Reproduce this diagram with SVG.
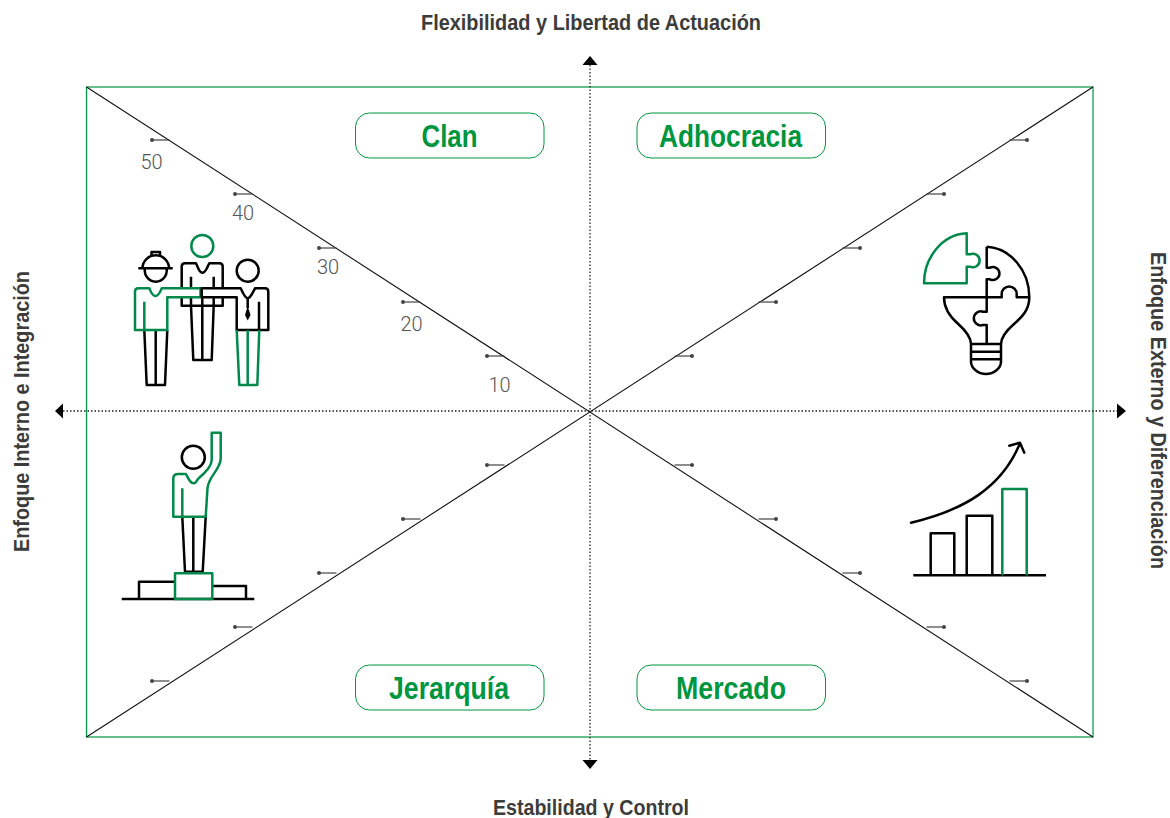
<svg xmlns="http://www.w3.org/2000/svg" width="1170" height="818" viewBox="0 0 1170 818">
<style>
text{font-family:"Liberation Sans",Arial,sans-serif}
.title{font-weight:700;font-size:22.500px;fill:#3c3c3b;text-anchor:middle}
.lab{font-weight:700;font-size:32px;fill:#009640;text-anchor:middle}
.num{font-family:Roboto,"Liberation Sans",sans-serif;font-weight:300;font-size:20px;fill:#555}
.box{fill:#fff;stroke:#009640;stroke-width:1}
.k{fill:none;stroke:#000;stroke-width:2.500;stroke-linejoin:round}
.g{fill:none;stroke:#00894a;stroke-width:2.500;stroke-linejoin:round}
.w{fill:#fff}
.diag{stroke:#111;stroke-width:1.100;fill:none}
.dot{stroke:#222;stroke-width:1.300;stroke-dasharray:1.500 2;fill:none}
.tick{stroke:#444;stroke-width:1.200;fill:none}
</style>
<defs>
<g id="t"><circle r="2" fill="#444"/><path class="tick" d="M0 0H17.500"/></g>
<g id="tr"><circle r="2" fill="#444"/><path class="tick" d="M0 0H-17.500"/></g>
</defs>
<rect id="frame" x="86.500" y="87" width="1006.500" height="650" fill="#fff" stroke="#009640" stroke-width="1.200"/>
<g id="connectors">
<path class="diag" d="M86.500 87L1093 737M1093 87L86.500 737"/>
<path class="dot" d="M590 65V760M63 411H1117"/>
<path fill="#000" d="M590 56L597.500 65H582.500ZM590 769L582.500 760H597.500ZM55 411L63 403.500V418.500ZM1126 411L1117 403.500V418.500Z"/>
<use href="#t" x="152" y="140"/><use href="#t" x="235" y="194"/><use href="#t" x="319" y="248"/><use href="#t" x="403" y="302"/><use href="#t" x="487" y="356"/>
<use href="#t" x="487" y="465"/><use href="#t" x="403" y="519"/><use href="#t" x="319" y="573"/><use href="#t" x="235" y="627"/><use href="#t" x="152" y="681"/>
<use href="#tr" x="1027" y="140"/><use href="#tr" x="944" y="194"/><use href="#tr" x="860" y="248"/><use href="#tr" x="776" y="302"/><use href="#tr" x="692" y="356"/>
<use href="#tr" x="692" y="465"/><use href="#tr" x="776" y="519"/><use href="#tr" x="860" y="573"/><use href="#tr" x="944" y="627"/><use href="#tr" x="1027" y="681"/>
</g>
<g id="scale">
<text class="num" x="140.500" y="169">50</text><text class="num" x="232" y="220">40</text><text class="num" x="317" y="274">30</text><text class="num" x="400.500" y="331">20</text><text class="num" x="488.500" y="392">10</text>
</g>
<g id="titles">
<text class="title" x="591" y="30" textLength="340" lengthAdjust="spacingAndGlyphs">Flexibilidad y Libertad de Actuación</text>
<text class="title" x="591" y="815" textLength="196" lengthAdjust="spacingAndGlyphs">Estabilidad y Control</text>
<text class="title" transform="translate(28.500 411.500) rotate(-90)" textLength="281" lengthAdjust="spacingAndGlyphs">Enfoque Interno e Integración</text>
<text class="title" transform="translate(1150.500 410.500) rotate(90)" textLength="317" lengthAdjust="spacingAndGlyphs">Enfoque Externo y Diferenciación</text>
</g>
<g id="clan"><rect class="box" x="355.500" y="113" width="188.500" height="45" rx="14"/><text class="lab" x="449.500" y="147" textLength="56" lengthAdjust="spacingAndGlyphs">Clan</text></g>
<g id="adhocracia"><rect class="box" x="637" y="113" width="188.500" height="45" rx="14"/><text class="lab" x="730.500" y="147" textLength="143" lengthAdjust="spacingAndGlyphs">Adhocracia</text></g>
<g id="jerarquia"><rect class="box" x="355.500" y="665" width="188.500" height="45" rx="14"/><text class="lab" x="449" y="698.500" textLength="120" lengthAdjust="spacingAndGlyphs">Jerarquía</text></g>
<g id="mercado"><rect class="box" x="637" y="665" width="188.500" height="45" rx="14"/><text class="lab" x="731" y="698.500" textLength="110" lengthAdjust="spacingAndGlyphs">Mercado</text></g>
<g id="icon-clan">
<path class="k" d="M144.300 330L146.700 385H165L167.300 330M155.700 330V385"/>
<path class="k" d="M138.300 268.300H172.700M142.500 268.300A13.200 13 0 0 1 169 268.300M151.500 256V252H160V256M145 268.300A11 11 0 1 0 166.500 268.300"/>
<circle class="g" cx="202.300" cy="246" r="11"/>
<path class="k w" d="M181.700 305.700V266.700Q181.700 263.300 185 263.300H196C198 267 199 272.700 202.300 272.700C206 272.700 207 267 209.300 263.300H219.500Q222.700 263.300 222.700 266.700V305.700Z"/>
<path class="k" d="M191 276.700V305.700M213.700 276.700V305.700M191 305.700L193.300 360H211.700L213.700 305.700M202.300 297.300V360"/>
<path class="g w" d="M135 330V291.700Q135 288.300 138.300 288.300H149.300C151 292 152 296 155.500 296C159 296 160 292 161.700 288.300H200.500V297.300H167.300V330Z"/>
<path class="g" d="M144.300 301.700V330"/>
<circle class="k" cx="247.700" cy="270.700" r="11"/>
<path class="k w" d="M201.700 288.300H240.700C242.500 292 245 298.300 247.700 298.300C250.500 298.300 253 292 255 288.300H265Q268.300 288.300 268.300 291.700V330H236.700V297.300H201.700Z"/>
<path class="k" d="M259 301.700V330M247.700 298.300V308"/>
<path fill="#000" d="M247.700 306L250.500 315L247.700 320.500L245 315Z"/>
<path class="g" d="M236.700 330L239.300 385H257.300L259.300 330M247.700 330V385"/>
</g>
<g id="icon-adhocracia">
<path class="g" d="M966.700 233.300C942 234.500 924 258 924 283.300H966.700V266.700H970A6.800 6.800 0 1 0 970 254.300H966.700Z"/>
<path class="k" d="M986.700 246.700C1010 248 1029.300 270 1029.300 297.300C1029.300 310 1022 317 1014 324C1006 331 1001 337 1001 344V361.700C1001 368 994 374 986 374C978 374 971 368 971 361.700V344C971 337 966 331 958.300 324C950 317 944 307 944 297.300H1001.700V294A7.500 7.500 0 0 1 1016.700 294V297.300H1029.300"/>
<path class="k" d="M986.700 246.700V267.700H990A6.500 6.500 0 1 1 990 279.300H986.700V311.700H983A7 7 0 1 0 983 325H986.700V344M971 344H1001M971 351.700H1001M971 359.300H1001"/>
</g>
<g id="icon-jerarquia">
<circle class="k" cx="193.300" cy="457.300" r="11.500"/>
<path class="k" d="M182.300 516.700L185 571.700H202.700L205.700 516.700M193.300 516.700V571.700"/>
<path class="g" d="M173.300 516.700V478.300Q173.300 474 178.300 474H186C188 478 190 483.300 193.500 483.300C197 483.300 196 480 199 478C206 472 211.700 466 211.700 460V432.700H220.700V458.300C220.700 470 209 475 207.500 488L205.700 516.700ZM182.300 488.300V516.700"/>
<path class="k" d="M121.700 599H254.300M139 599V581.700H175M212.300 586H246V599"/>
<rect class="g" x="175" y="573.300" width="37.300" height="25.700"/>
</g>
<g id="icon-mercado">
<path class="k" d="M913.300 575.300H1046M930.700 575.300V533.300H954.300V575.300M966.700 575.300V515.700H992.300V575.300"/>
<path class="g" d="M1002.300 575.300V489H1026.700V575.300"/>
<path class="k" stroke-linecap="round" d="M911 522.700C965 510 1002 487 1020 443.300M1009.300 445.700L1020 442.700L1024.300 452.700"/>
</g>
</svg>
